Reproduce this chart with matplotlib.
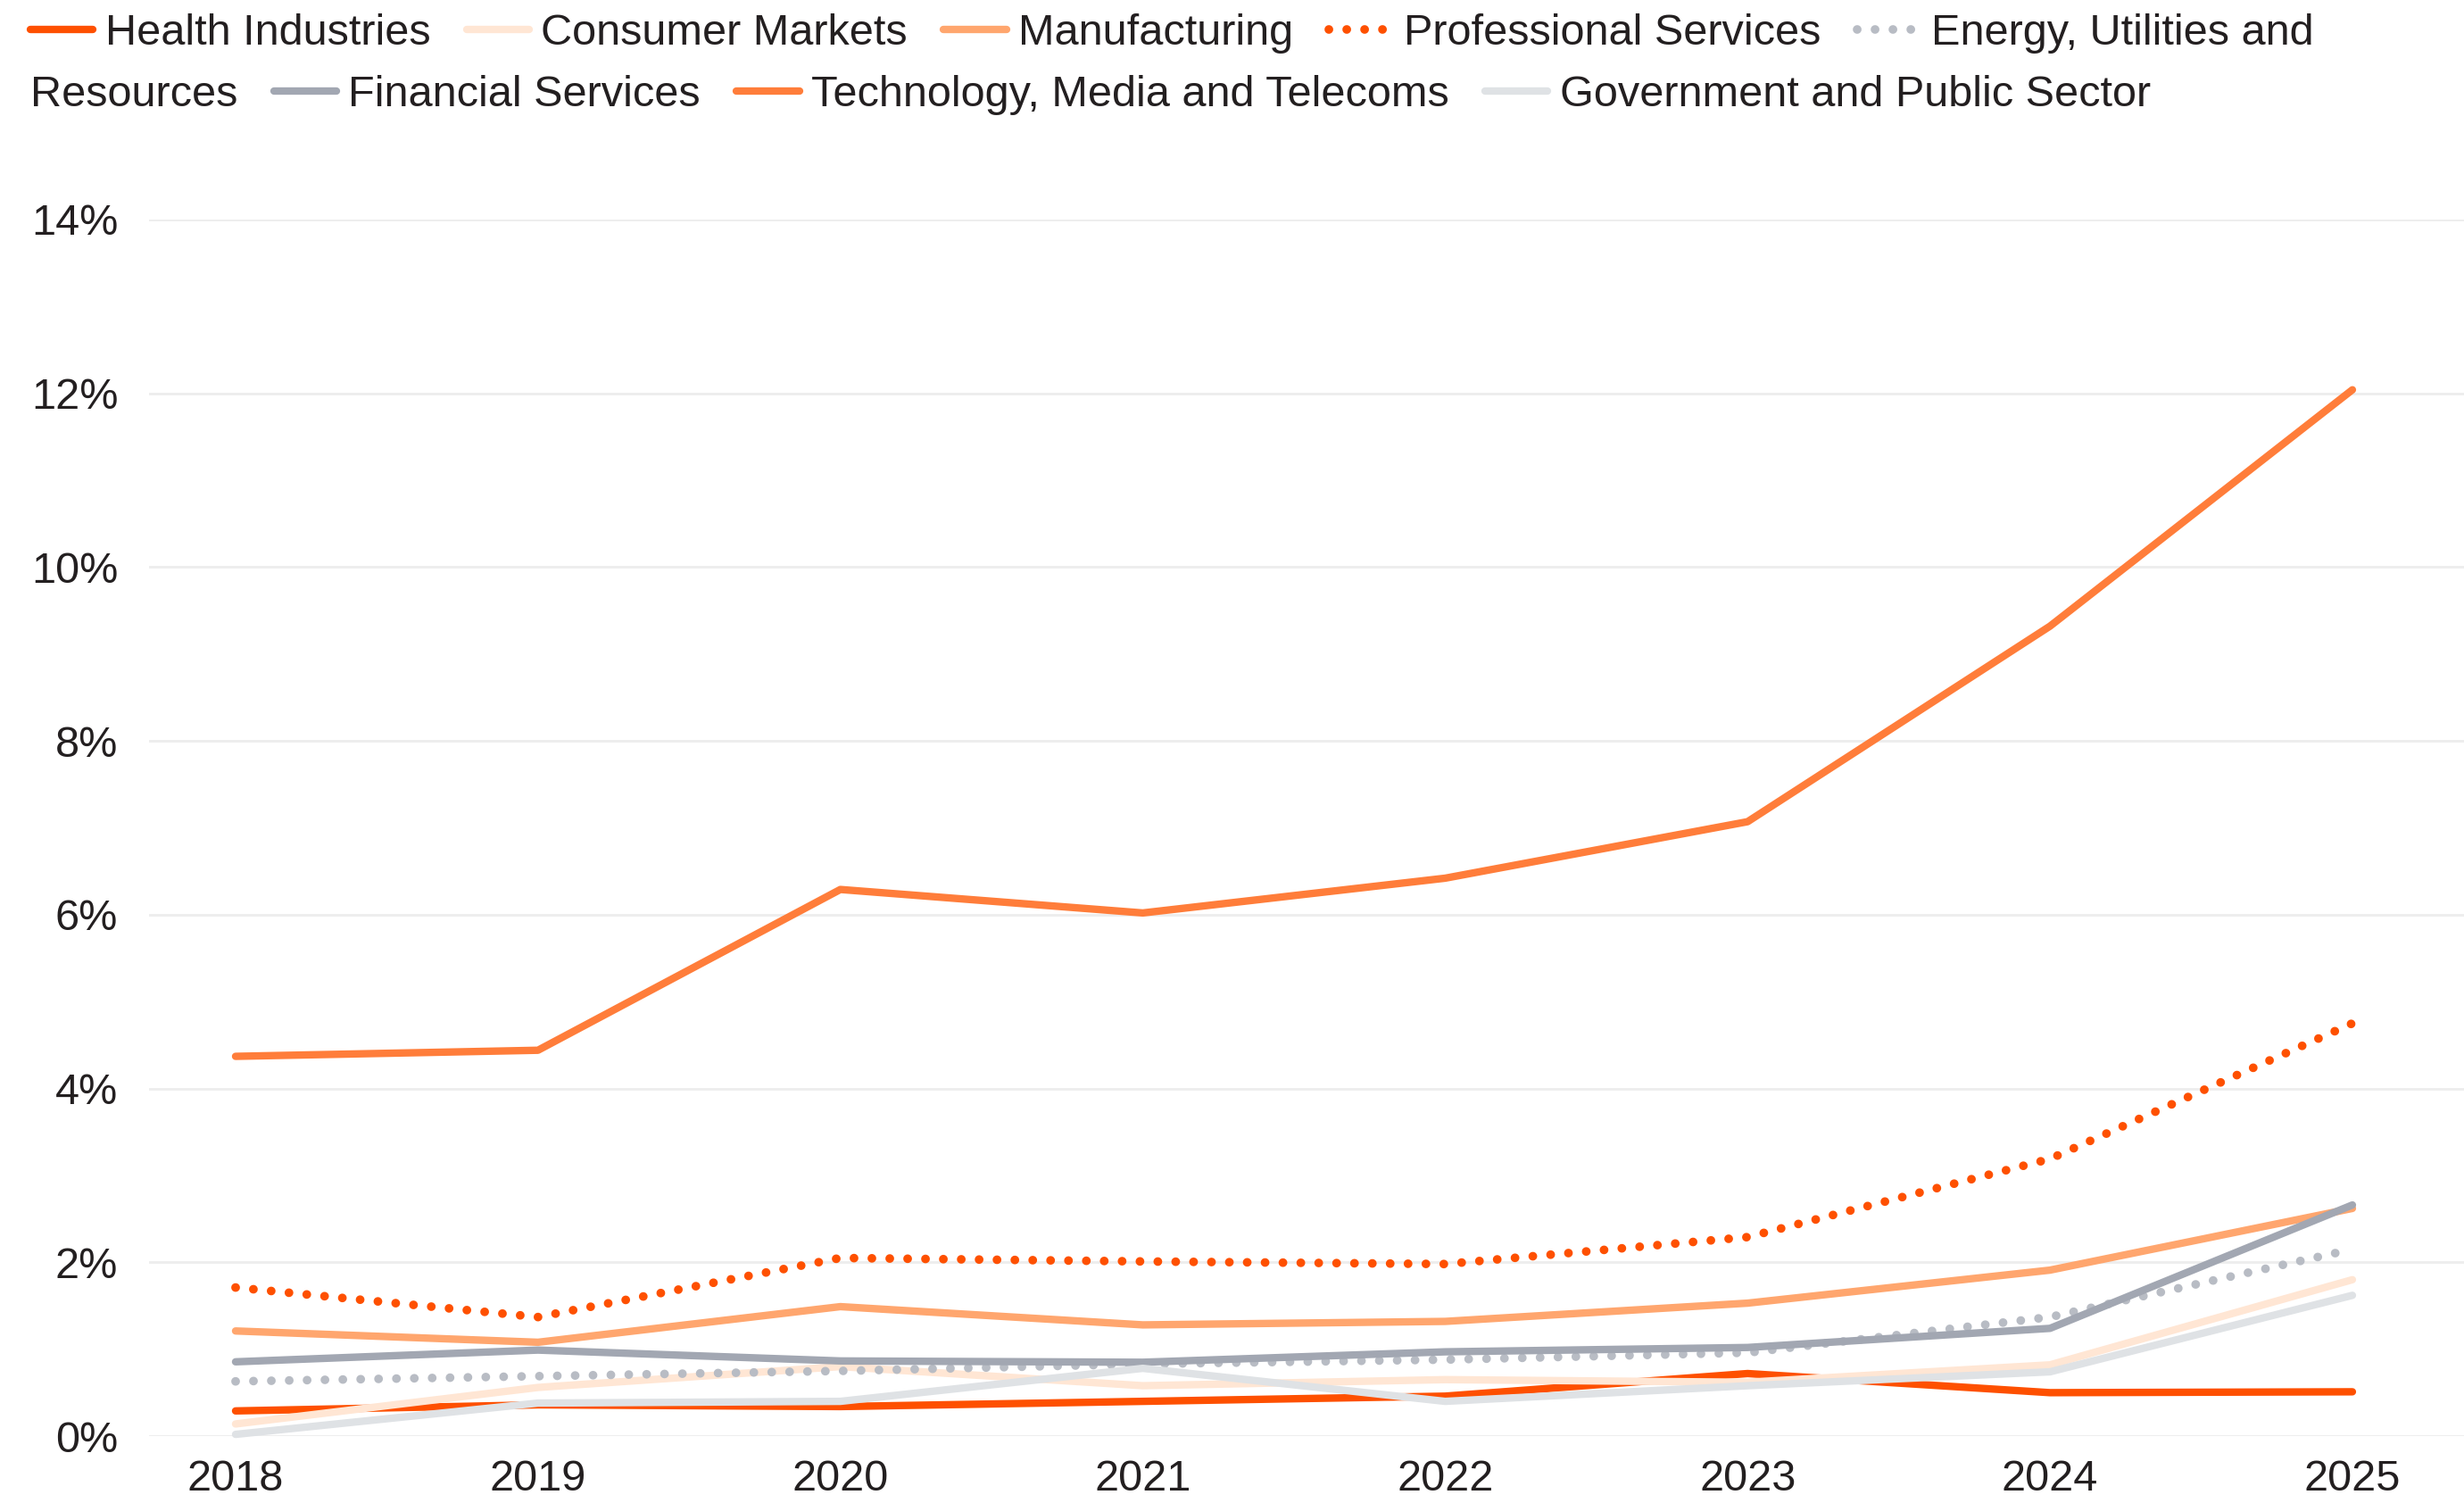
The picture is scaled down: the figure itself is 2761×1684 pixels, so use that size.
import matplotlib.pyplot as plt
from matplotlib.ticker import FuncFormatter

plt.rcParams['font.family'] = ['Liberation Sans', 'DejaVu Sans']

years = [2018, 2019, 2020, 2021, 2022, 2023, 2024, 2025]

health = [0.29, 0.36, 0.34, 0.40, 0.46, 0.72, 0.50, 0.51]
consumer = [0.14, 0.56, 0.80, 0.58, 0.65, 0.62, 0.82, 1.80]
manufacturing = [1.21, 1.08, 1.49, 1.28, 1.32, 1.53, 1.91, 2.62]
professional = [1.71, 1.37, 2.05, 2.01, 1.98, 2.29, 3.19, 4.75]
energy = [0.63, 0.69, 0.75, 0.83, 0.88, 0.96, 1.37, 2.15]
financial = [0.855, 0.99, 0.865, 0.85, 0.97, 1.02, 1.24, 2.66]
tech = [4.37, 4.44, 6.29, 6.02, 6.42, 7.07, 9.32, 12.04]
government = [0.02, 0.38, 0.40, 0.78, 0.40, 0.58, 0.74, 1.62]

labels = ["Health Industries", "Consumer Markets", "Manufacturing",
          "Professional Services", "Energy, Utilities and Resources",
          "Financial Services", "Technology, Media and Telecoms",
          "Government and Public Sector"]
series = [health, consumer, manufacturing, professional, energy,
          financial, tech, government]
colors = ["#FE5000", "#FFE6D4", "#FFA66E", "#FE5000", "#B8BCC4",
          "#A2A7B2", "#FF7D3A", "#DFE2E5"]
dotted = [False, False, False, True, True, False, False, False]

text_col = "#231F20"
fs = 35
lw = 6.0
dot_lw = 7.0
dots = (0, (0.01, 2.05))

fig = plt.figure(figsize=(27.61, 16.84), dpi=100)
ax = fig.add_axes([0.0605, 0.0445, 0.9395, 0.8095])

handles = []
for ys, c, d in zip(series, colors, dotted):
    if d:
        ln, = ax.plot(years, ys, color=c, lw=dot_lw, linestyle=dots,
                      dash_capstyle='round', clip_on=False)
    else:
        ln, = ax.plot(years, ys, color=c, lw=lw, solid_capstyle='round',
                      solid_joinstyle='round', clip_on=False)
    handles.append(ln)

ax.set_xlim(2017.714, 2025.369)
ax.set_ylim(0, 14)
ax.set_yticks(range(0, 15, 2))
ax.set_xticks(years)
ax.yaxis.set_major_formatter(FuncFormatter(lambda v, p: f"{v:.0f}%"))
ax.grid(axis='y', color='#EDEDED', lw=2)
ax.set_axisbelow(True)
for s in ax.spines.values():
    s.set_visible(False)
ax.tick_params(length=0, labelsize=fs, labelcolor=text_col)
ax.tick_params(axis='y', pad=25)
ax.tick_params(axis='x', pad=19)

leg_kw = dict(frameon=False, borderpad=0, borderaxespad=0, fontsize=fs,
              handlelength=1.45, handletextpad=0.27, columnspacing=0.83,
              labelcolor=text_col, loc='center left')

# first legend row (wraps after "Energy, Utilities and")
row1_lab = labels[:4] + ["Energy, Utilities and"]
leg1 = fig.legend(handles[:5], row1_lab, ncol=5,
                  bbox_to_anchor=(0.0123, 0.978), **leg_kw)

# second row: wrapped word, then remaining entries
x0 = 0.0123
t = fig.text(x0, 0.937, "Resources", fontsize=fs, color=text_col,
             va='center', ha='left')
fig.canvas.draw()
ext = t.get_window_extent(fig.canvas.get_renderer())
x1 = (ext.x1 + 0.83 * fs * 100 / 72) / fig.bbox.width
leg2 = fig.legend(handles[5:], labels[5:], ncol=3,
                  bbox_to_anchor=(x1, 0.937), **leg_kw)

fig.savefig("out.png", dpi=100)
